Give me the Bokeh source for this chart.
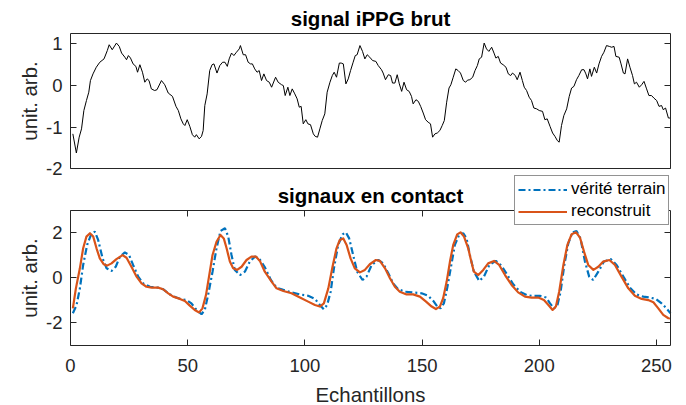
from bokeh.plotting import figure
from bokeh.models import LinearAxis, FixedTicker, Range1d, Legend, LegendItem, Label
from bokeh.embed import file_html
from bokeh.resources import INLINE

# ---------------- data ----------------
raw_x = [1, 2.5, 3.7, 4.7, 5.7, 6.8, 7.8, 8.5, 9.6, 11.0, 12.5, 14.3, 15.7, 16.5, 17.8, 19.6, 20.8,
         21.8, 23.2, 23.9, 24.7, 25.6, 26.7, 27.9, 28.6, 29.6, 30.7, 31.7, 32.7, 33.5, 34.5, 35.9,
         36.9, 38.8, 40.2, 41.7, 43.5, 45.0, 46.0, 47.1, 48.1, 48.8, 49.8, 50.9, 52.0, 53.0, 53.7,
         54.9, 55.9, 56.6, 57.3, 58.3, 59.4, 60.4, 61.2, 62.5, 63.7, 64.9, 65.9, 66.9, 67.7, 68.7,
         69.7, 70.8, 72.0, 72.5, 73.7, 74.7, 75.8, 76.8, 77.6, 78.6, 79.6, 80.5, 81.5, 82.5,
         83.65, 84.8, 85.8, 87.5, 88.6, 90.05, 90.8, 91.6, 92.75, 93.6, 94.6, 95.7, 96.7, 97.6,
         98.4, 99.3, 100.4, 101.3, 102.4, 103.6, 104.4, 105.4, 106.4, 107.4, 108.5, 109.5, 110.7,
         111.7, 112.5, 113.5, 114.7, 115.5, 116.4, 117.5, 118.5, 119.5, 120.6, 121.5, 122.3, 123.5,
         124.6, 125.6, 126.6, 127.7, 128.9, 130.3, 131.3, 132.7, 133.4, 134.4, 135.6, 136.6, 137.4,
         138.4, 139.4, 140.3, 141.3, 142.3, 143.4, 144.5, 145.5, 146.2, 147.4, 148.4, 149.4, 150.5,
         151.5, 152.6, 153.6, 154.5, 155.5, 156.5, 157.6, 158.6, 159.5, 160.5, 161.5, 162.3, 163.3,
         164.4, 165.4, 166.4, 167.6, 168.6,
         169.4, 170.4, 171.6, 172.6, 173.6, 174.4, 175.4, 176.5, 177.5, 178.5, 179.7, 180.7, 181.5,
         182.5, 183.5, 184.6, 185.8, 186.8, 187.8, 188.6, 189.8, 190.6, 191.8, 192.8, 193.6, 194.6,
         195.7, 196.7, 197.7, 198.9, 200.0, 201.4, 202.4, 203.4, 204.6, 205.7, 206.7, 207.7, 208.5,
         209.5, 210.5, 211.7, 212.8, 213.8, 214.8, 215.9, 216.9, 218.1, 219.1, 219.9, 220.6, 221.6,
         222.3, 223.5, 224.5, 225.5, 226.6, 227.6, 228.7, 229.9, 230.9, 231.9, 232.7, 234.1, 234.9,
         235.9, 236.6, 237.7, 238.7, 239.8, 240.6, 241.5, 242.7, 243.7, 244.7, 245.8, 246.8, 247.9,
         248.9, 250.1, 251.1, 252.2, 252.9, 253.9, 255.1, 256]
raw_y = [-1.16, -1.62, -1.24, -1.04, -0.60, -0.36, -0.16, 0.12, 0.28, 0.44, 0.56, 0.64, 0.84, 0.98,
         0.86, 1.02, 0.94, 0.78, 0.68, 0.62, 0.72, 0.66, 0.52, 0.46, 0.32, 0.50, 0.32, 0.08, 0.16,
         0.12, -0.08, -0.12, -0.10, 0.12, 0.02, -0.18, -0.26, -0.50, -0.60, -0.80, -0.92, -0.96,
         -0.82, -0.98, -1.18, -1.24, -1.18, -1.28, -1.22, -1.08, -0.48, -0.20, 0.36, 0.50, 0.52,
         0.30, 0.48, 0.56, 0.56, 0.46, 0.64, 0.78, 0.72, 0.80, 0.88, 0.96, 0.74, 0.74, 0.56, 0.52,
         0.52, 0.40, 0.32, 0.36, 0.12, 0.28,
         0.12, 0.08, -0.04, 0.20, 0.08, 0.02, 0.00, -0.24, -0.04, -0.24, -0.08, -0.20, -0.32, -0.52,
         -0.50, -0.92, -0.82, -0.92, -0.94, -1.16, -1.22, -1.24, -1.04, -0.84, -0.68, -0.16, 0.08,
         0.24, 0.32, 0.20, 0.54, 0.54, 0.52, 0.04, 0.16, 0.36, 0.56, 0.72, 0.74, 0.96, 0.82, 0.64,
         0.74, 0.68, 0.60, 0.58, 0.48, 0.38, 0.30, 0.14, 0.26, 0.24, 0.06, 0.06, 0.26, 0.04, -0.14,
         0.08, -0.10, -0.14, -0.26, -0.44, -0.34, -0.38, -0.50, -0.66, -0.82, -0.88, -0.92, -1.24,
         -1.16, -1.14, -1.08, -0.96, -0.84, -0.40, -0.06, 0.02, 0.20, 0.40, 0.36, 0.30, 0.12, 0.08,
         0.13, 0.14, 0.20, 0.36, 0.48, 0.64, 0.68, 1.02, 0.88, 0.82, 0.92, 0.78, 0.66, 0.70, 0.54,
         0.50, 0.44, 0.28, 0.24, 0.30, 0.24, 0.14, 0.32, 0.12, -0.04, -0.12, -0.28, -0.36, -0.54,
         -0.56, -0.60, -0.62, -0.82, -0.80, -0.98, -1.14, -1.22, -1.32, -1.36, -0.96, -0.72, -0.56,
         -0.26, -0.06, -0.02, 0.14, 0.24, 0.38, 0.38, 0.28, 0.16, 0.40, 0.22, 0.44, 0.30, 0.52,
         0.70, 0.80, 0.96, 0.94, 0.92, 0.94, 0.70, 0.68, 0.52, 0.30, 0.28, 0.64, 0.44, 0.24, 0.04,
         0.08, -0.04, 0.02, 0.10, -0.08, -0.24, -0.24, -0.30, -0.36, -0.50, -0.48, -0.58, -0.54,
         -0.78, -0.78]

truth_x = [1.0, 2.6, 4.0, 5.4, 7.1, 9.0, 10.4, 11.8, 13.7, 15.4, 17.5, 19.3, 21.1, 23.2, 25.0, 26.7,
           28.9, 31.0, 33.9, 37.4, 39.5, 42.4, 45.2, 47.4, 49.5, 51.6, 53.8, 55.9, 57.3, 58.7, 60.6,
           62.3, 64.0, 65.9, 67.3, 68.7, 70.1, 72.3, 74.4, 76.5, 78.7, 80.5, 82.8, 85.5, 87.9, 90.8,
           94.3, 97.9, 101.4, 104.3, 106.4, 108.1, 109.5, 111.0, 112.4, 114.2, 116.1, 117.5, 118.9,
           120.6, 122.3, 124.6, 126.3, 128.5, 131.3, 133.4, 135.6, 137.7, 139.8, 142.7, 146.2, 149.8,
           152.6, 154.8, 156.5, 157.9, 159.3, 160.7, 162.6, 164.0, 165.9, 167.6, 169.0, 170.4, 172.1,
           174.4, 176.4, 178.7, 181.5, 183.9, 186.4, 188.9, 191.8, 194.6, 197.4, 200.3, 202.9, 204.6,
           206.3, 207.7, 209.1, 210.7, 212.4, 214.2, 215.9, 217.6, 219.5, 221.3, 223.0, 225.2, 227.6,
           230.5, 233.0, 235.9, 238.7, 241.5, 244.4, 247.2, 249.8, 252.2, 254.3, 256]
truth_y = [-1.57, -1.20, -0.46, 0.58, 1.47, 1.99, 2.06, 1.69, 0.87, 0.43, 0.31, 0.50, 0.95, 1.14, 1.02,
           0.58, 0.06, -0.24, -0.39, -0.43, -0.50, -0.73, -0.87, -0.95, -0.98, -1.13, -1.42, -1.61,
           -1.42, -0.76, 0.28, 1.32, 2.09, 2.21, 1.84, 1.02, 0.36, 0.13, 0.28, 0.73, 0.95, 0.87, 0.50,
           -0.09, -0.43, -0.53, -0.64, -0.73, -0.79, -0.93, -1.20, -1.39, -1.20, -0.61, 0.43, 1.47,
           1.94, 2.03, 1.76, 1.02, 0.28, -0.09, 0.06, 0.58, 0.80, 0.65, 0.21, -0.24, -0.50, -0.61,
           -0.64, -0.68, -0.79, -1.02, -1.27, -1.35, -1.13, -0.46, 0.65, 1.47, 1.94, 1.99, 1.75, 1.02,
           0.28, -0.13, 0.06, 0.58, 0.76, 0.55, 0.13, -0.28, -0.61, -0.76, -0.80, -0.79, -0.87, -1.13,
           -1.35, -1.23, -0.61, 0.58, 1.54, 2.03, 2.09, 1.76, 0.73, 0.06, -0.09, 0.28, 0.73, 0.84,
           0.58, 0.06, -0.43, -0.73, -0.83, -0.87, -0.93, -1.13, -1.35, -1.57]

recon_x = [1.0, 2.3, 4.0, 5.4, 6.8, 8.3, 9.7, 11.1, 12.5, 14.2, 15.6, 17.5, 19.6, 22.2, 23.9, 26.0,
           28.2, 30.3, 32.4, 34.6, 37.4, 39.5, 41.7, 43.8, 46.7, 48.8, 50.9, 53.0, 54.9, 56.3, 57.8,
           59.2, 60.6, 62.3, 64.0, 65.4, 66.6, 68.0, 69.4, 71.1, 73.0, 75.1, 77.2, 79.1, 80.8, 82.9,
           85.8, 87.9, 90.8, 94.3, 97.9, 101.4, 104.3, 106.4, 108.1, 110.0, 111.8, 113.5, 114.9, 116.4,
           117.8, 119.5, 121.3, 123.5, 125.6, 127.7, 130.3, 132.0, 134.2, 136.3, 138.4, 140.5, 143.4,
           146.2, 149.1, 151.7, 154.1, 155.9, 157.6, 159.0, 160.5, 161.9, 163.3, 165.0, 166.4, 167.9,
           169.7, 170.7, 172.1, 174.0, 176.1, 178.2, 180.7, 182.9, 185.4, 188.2, 191.0, 193.9, 196.7,
           199.6, 202.0, 203.9, 205.7, 207.1, 208.5, 210.3, 212.0, 213.8, 215.7, 217.4, 219.1, 220.9,
           223.1, 225.2, 227.3, 229.9, 232.3, 235.1, 238.0, 240.8, 243.7, 246.5, 248.7, 250.8, 252.9,
           255.1, 256]
recon_y = [-1.35, -0.46, 0.43, 1.32, 1.84, 1.99, 1.84, 1.32, 0.87, 0.61, 0.55, 0.65, 0.84, 1.02, 0.90,
           0.50, 0.06, -0.24, -0.39, -0.43, -0.43, -0.50, -0.68, -0.83, -0.93, -1.02, -1.23, -1.42,
           -1.53, -1.35, -0.76, 0.13, 1.02, 1.61, 1.91, 1.76, 1.32, 0.73, 0.43, 0.36, 0.50, 0.80, 0.95,
           0.95, 0.76, 0.28, -0.16, -0.46, -0.58, -0.68, -0.87, -1.05, -1.20, -1.27, -1.13, -0.46,
           0.50, 1.32, 1.69, 1.76, 1.47, 0.87, 0.43, 0.25, 0.36, 0.61, 0.80, 0.76, 0.43, -0.01, -0.39,
           -0.61, -0.73, -0.73, -0.83, -1.05, -1.27, -1.38, -1.27, -0.90, -0.16, 0.73, 1.47, 1.94,
           2.03, 1.84, 1.32, 0.87, 0.28, 0.13, 0.36, 0.65, 0.76, 0.58, 0.13, -0.31, -0.64, -0.83,
           -0.87, -0.87, -0.98, -1.20, -1.42, -1.27, -0.61, 0.58, 1.47, 1.94, 2.03, 1.79, 1.17, 0.58,
           0.36, 0.50, 0.73, 0.80, 0.58, 0.06, -0.46, -0.79, -0.93, -0.98, -1.08, -1.35, -1.64, -1.79,
           -1.80]

x_lim = (0, 256)
top_y_lim = (-2, 1.25)
bot_y_lim = (-3, 3)
x_ticks = [0, 50, 100, 150, 200, 250]
x_tick_labels = ["0", "50", "100", "150", "200", "250"]
top_y_ticks = [-2, -1, 0, 1]
top_y_tick_labels = ["-2", "-1", "0", "1"]
bot_y_ticks = [-2, 0, 2]
bot_y_tick_labels = ["-2", "0", "2"]

title_top = "signal iPPG brut"
title_bot = "signaux en contact"
y_label = "unit. arb."
x_label = "Echantillons"
legend_labels = ["vérité terrain", "reconstruit"]

# ---------------- style / layout ----------------
FONT = "Liberation Sans"
AX = "#262626"
BLUE = "#0072BD"
ORANGE = "#D95319"
TICK_FS = "18.5px"
LABEL_FS = "20.4px"
TITLE_FS = "20.5px"
W, H = 686, 405
# The plotting frame covers the whole canvas; both boxes are drawn with fixed-location axes.
# x: box from px 70 to 670 -> 2.34375 px per sample
X_VIEW = (-29.867, 262.827)
# bottom panel: 22.5 px per unit, box from px 210 (y=3) to px 345 (y=-3)
BOT_VIEW = (-5.667, 12.333)
# top panel: 41.64 px per unit, box from px 33 (y=1.25) to px 168.3 (y=-2)
TOP_VIEW = (-7.684, 2.0425)


def style_axis(ax, ticks, labels=None, tick_in=6):
    ax.ticker = FixedTicker(ticks=ticks)
    ax.major_tick_in = tick_in
    ax.major_tick_out = 0
    ax.minor_tick_line_color = None
    ax.axis_line_color = AX
    ax.axis_line_width = 1
    ax.major_tick_line_color = AX
    ax.major_tick_line_width = 1
    ax.major_label_text_font = FONT
    ax.major_label_text_color = AX
    if labels is not None:
        ax.major_label_overrides = {t: l for t, l in zip(ticks, labels)}
        ax.major_label_text_font_size = TICK_FS
        ax.major_label_standoff = 8
    else:
        ax.major_label_overrides = {t: "" for t in ticks}
        ax.major_label_text_font_size = "0px"
        ax.major_label_standoff = 0


def set_label(ax, text, standoff):
    ax.axis_label = text
    ax.axis_label_text_font = FONT
    ax.axis_label_text_font_size = LABEL_FS
    ax.axis_label_text_font_style = "normal"
    ax.axis_label_text_color = AX
    ax.axis_label_standoff = standoff


p = figure(width=W, height=H, x_range=Range1d(*X_VIEW), y_range=Range1d(*BOT_VIEW),
           output_backend="svg", toolbar_location=None,
           min_border_left=0, min_border_right=0, min_border_top=0, min_border_bottom=0,
           x_axis_location=None, y_axis_location=None)
p.extra_y_ranges = {"top": Range1d(*TOP_VIEW)}
p.grid.visible = False
p.outline_line_color = None
p.background_fill_color = "white"
p.border_fill_color = "white"

# ---------------- top panel ----------------
p.line(raw_x, raw_y, line_color="black", line_width=1, y_range_name="top")

a = LinearAxis(y_range_name="top", bounds=top_y_lim, fixed_location=x_lim[0])
style_axis(a, top_y_ticks, top_y_tick_labels)
set_label(a, y_label, 2)
p.add_layout(a, "left")
a = LinearAxis(y_range_name="top", bounds=top_y_lim, fixed_location=x_lim[1])
style_axis(a, top_y_ticks)
p.add_layout(a, "right")
a = LinearAxis(y_range_name="top", bounds=x_lim, fixed_location=top_y_lim[0])
style_axis(a, [])
p.add_layout(a, "below")
a = LinearAxis(y_range_name="top", bounds=x_lim, fixed_location=top_y_lim[1])
style_axis(a, [])
p.add_layout(a, "above")
p.add_layout(Label(x=(x_lim[0] + x_lim[1]) / 2, y=top_y_lim[1], y_range_name="top", y_offset=15,
                   text=title_top, text_align="center", text_baseline="middle",
                   text_font=FONT, text_font_style="bold", text_font_size=TITLE_FS,
                   text_color="black"))

# ---------------- bottom panel ----------------
r_truth = p.line(truth_x, truth_y, line_color=BLUE, line_width=2.2, line_dash="7 3 2 3")
r_recon = p.line(recon_x, recon_y, line_color=ORANGE, line_width=2.2, line_join="round")

a = LinearAxis(bounds=x_lim, fixed_location=bot_y_lim[0])
style_axis(a, x_ticks, x_tick_labels)
a.major_label_standoff = 14
set_label(a, x_label, 8)
p.add_layout(a, "below")
a = LinearAxis(bounds=bot_y_lim, fixed_location=x_lim[0])
style_axis(a, bot_y_ticks, bot_y_tick_labels)
set_label(a, y_label, 2)
p.add_layout(a, "left")
a = LinearAxis(bounds=bot_y_lim, fixed_location=x_lim[1])
style_axis(a, bot_y_ticks)
p.add_layout(a, "right")
a = LinearAxis(bounds=x_lim, fixed_location=bot_y_lim[1])
style_axis(a, x_ticks)
p.add_layout(a, "above")
p.add_layout(Label(x=(x_lim[0] + x_lim[1]) / 2, y=bot_y_lim[1], y_offset=15, text=title_bot,
                   text_align="center", text_baseline="middle", text_font=FONT,
                   text_font_style="bold", text_font_size=TITLE_FS, text_color="black"))

legend = Legend(items=[LegendItem(label=legend_labels[0], renderers=[r_truth]),
                       LegendItem(label=legend_labels[1], renderers=[r_recon])],
                location=(514, 180))
legend.border_line_color = AX
legend.border_line_width = 1
legend.background_fill_color = "white"
legend.background_fill_alpha = 1
legend.label_text_font = FONT
legend.label_text_font_size = "17px"
legend.label_text_color = "black"
legend.glyph_width = 49
legend.glyph_height = 19
legend.label_height = 19
legend.label_standoff = 4
legend.padding = 3
legend.spacing = 2
legend.margin = 0
p.add_layout(legend)

open("out.html", "w").write(file_html(p, INLINE))
